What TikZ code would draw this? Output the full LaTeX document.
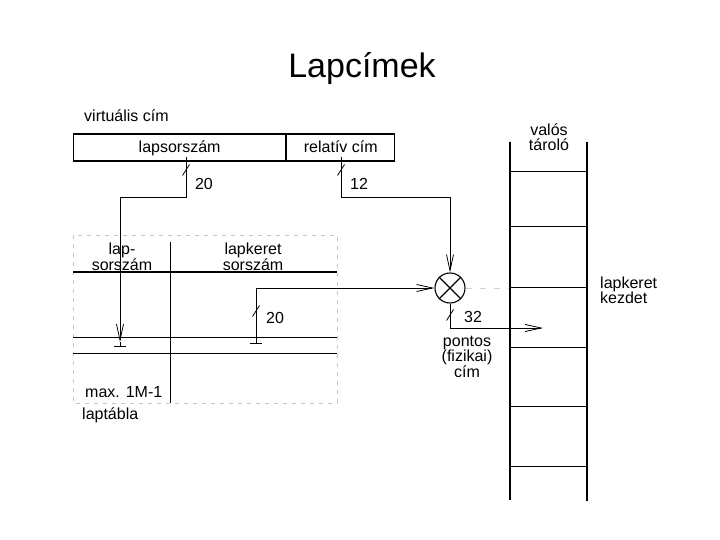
\documentclass[tikz,border=0pt]{standalone}
\usepackage{fontspec}
\setmainfont{Liberation Sans}
\usetikzlibrary{arrows.meta}
\tikzset{
  lap wire/.style={line width=.8pt},
  lap arrow/.style={line width=.8pt,-{Straight Barb[length=16pt,width=7pt]}},
  lap head/.style={line width=1.7pt},
  lap rule/.style={line width=1pt},
  lap wall/.style={line width=1.6pt},
  lap frame/.style={gray!45,line width=.8pt,dash pattern=on 4pt off 5pt},
  lap guide/.style={gray!35,line width=.8pt,dash pattern=on 6pt off 8pt},
  lap field/.style={draw,line width=1.2pt,minimum height=27pt,inner sep=0pt,anchor=west,
    text height=11.5pt,text depth=1pt},
  lap text/.style={font=\fontsize{16}{15}\selectfont,inner sep=0pt}
}

\begin{document}
\begin{tikzpicture}[x=1pt,y=-1pt,lap text]
  \useasboundingbox (0,0) rectangle (720,540);
  \node[font=\fontsize{34}{40}\selectfont,anchor=base] (title) at (362,78) {Lapcímek};

  % virtual address
  \node[anchor=base west] (vcim) at (84,122) {virtuális cím};
  \node[lap field,minimum width=212pt] (pgfld) at (73,147.5) {lapsorszám};
  \node[lap field,minimum width=108pt] (offfld) at (pgfld.east) {relatív cím};
  \coordinate (pgout) at (186,157);
  \coordinate (offout) at (341,157);

  % page table
  \draw[lap frame] (73,235) rectangle (337,403);
  \draw[lap head] (73,272) -- (337,272);
  \draw[lap rule] (170,242) -- (170,403);
  \draw[lap rule] (73,337) -- (337,337);
  \draw[lap rule] (73,353) -- (337,353);
  \node[align=center] (hpage) at (122,257) {lap-\\sorszám};
  \node[align=center] (hframe) at (253,257) {lapkeret\\sorszám};
  \node[anchor=base west] (maxn) at (85,397) {max. 1M-1};
  \node[anchor=base west] (ptab) at (82,419) {laptábla};

  % combining the two parts
  \node[circle,draw,line width=1.1pt,minimum size=30pt,inner sep=0pt] (mul) at (450,288) {};
  \draw[line width=1.1pt] (mul.north west) -- (mul.south east) (mul.north east) -- (mul.south west);
  \coordinate (pgrow) at (120,342);
  \coordinate (frow) at (256,343);
  \coordinate (phys) at (543,328);

  \draw[lap arrow] (pgout) -- ++(0,40) -| (pgrow);
  \draw[lap wire] (pgrow) -- ++(0,4) ++(-6,0) -- ++(12,0);
  \draw[lap arrow] (offout) -- ++(0,40) -| (mul.north);
  \draw[lap arrow] (frow) |- (mul.west);
  \draw[lap wire] (frow) ++(-6,0) -- ++(12,0);
  \draw[lap arrow] (mul.south) |- (phys);
  \draw[lap guide] (mul.east) -- (510,288);

  % bus widths
  \foreach \x/\y/\w/\lx/\ly in {186/170/20/204/184,341/170/12/359/184,256/311/20/275/318,450/315/32/473/317}{
    \draw[lap wire] (\x-3.5,\y+5.5) -- (\x+3.5,\y-5.5);
    \node (w\x) at (\lx,\ly) {\w};
  }

  \node[align=center] (pcim) at (467,357) {pontos\\(fizikai)\\cím};

  % real memory
  \draw[lap wall] (510,142) -- (510,500);
  \draw[lap wall] (587,142) -- (587,501);
  \foreach \y in {172,227,287,347,406,466}{
    \draw[lap rule] (510,\y) -- (587,\y);
  }
  \node[align=center] (mem) at (549,137) {valós\\tároló};
  \node[align=left,anchor=west] (fstart) at (600,290) {lapkeret\\kezdet};
\end{tikzpicture}
\end{document}
